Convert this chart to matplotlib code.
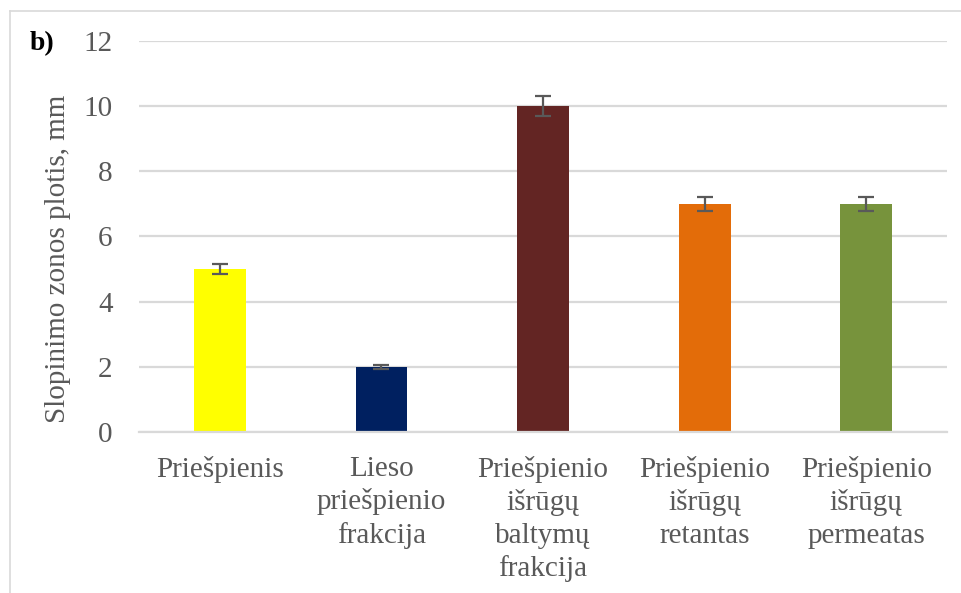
import numpy as np
import matplotlib.pyplot as plt
from matplotlib.lines import Line2D

plt.rcParams['font.family'] = ['Liberation Serif', 'DejaVu Serif']

labels = ["Priešpienis", "Lieso\npriešpienio\nfrakcija", "Priešpienio\nišrūgų\nbaltymų\nfrakcija",
          "Priešpienio\nišrūgų\nretantas", "Priešpienio\nišrūgų\npermeatas"]
values = [5.0, 2.0, 10.0, 7.0, 7.0]
errors = [0.16, 0.07, 0.3, 0.21, 0.21]
colors = ["#FFFF00", "#002060", "#632523", "#E36C09", "#77933C"]

text_col = "#595959"
grid_col = "#D9D9D9"

fig = plt.figure(figsize=(9.62, 5.93), dpi=100)
ax = fig.add_axes([0.1445, 0.2715, 0.84, 0.6594])

x = np.arange(len(labels))
ax.bar(x, values, width=0.32, color=colors, zorder=2)
ax.errorbar(x, values, yerr=errors, fmt="none", ecolor=text_col, elinewidth=1.6,
            capsize=6, capthick=1.6, zorder=3)

ax.set_xlim(-0.5, len(labels) - 0.5)
ax.set_ylim(0, 12)
ax.set_yticks(range(0, 13, 2))
ax.yaxis.grid(True, color=grid_col, linewidth=1.6, zorder=0)
ax.set_axisbelow(True)
for s in ["top", "right", "left"]:
    ax.spines[s].set_visible(False)
ax.spines["bottom"].set_color(grid_col)
ax.spines["bottom"].set_linewidth(1.6)

ax.set_xticks(x)
ax.set_xticklabels(labels, fontsize=21, color=text_col, linespacing=1.32, va="top")
ax.tick_params(axis="x", length=0, pad=17)
ax.tick_params(axis="y", length=0, pad=19, labelsize=21, labelcolor=text_col)

fig.text(58 / 962, 1 - 259 / 593, "Slopinimo zonos plotis, mm", fontsize=21,
         color=text_col, rotation=90, ha="center", va="center")

fig.text(0.031, 0.915, "b)", fontsize=20, fontweight="bold", color="black")

# thin frame around the chart
fig.add_artist(Line2D([0.0105, 1.0], [0.9815, 0.9815], color=grid_col, linewidth=1.2))
fig.add_artist(Line2D([0.0105, 0.0105], [0.0, 0.9815], color=grid_col, linewidth=1.2))

fig.savefig("out.png", dpi=100)
